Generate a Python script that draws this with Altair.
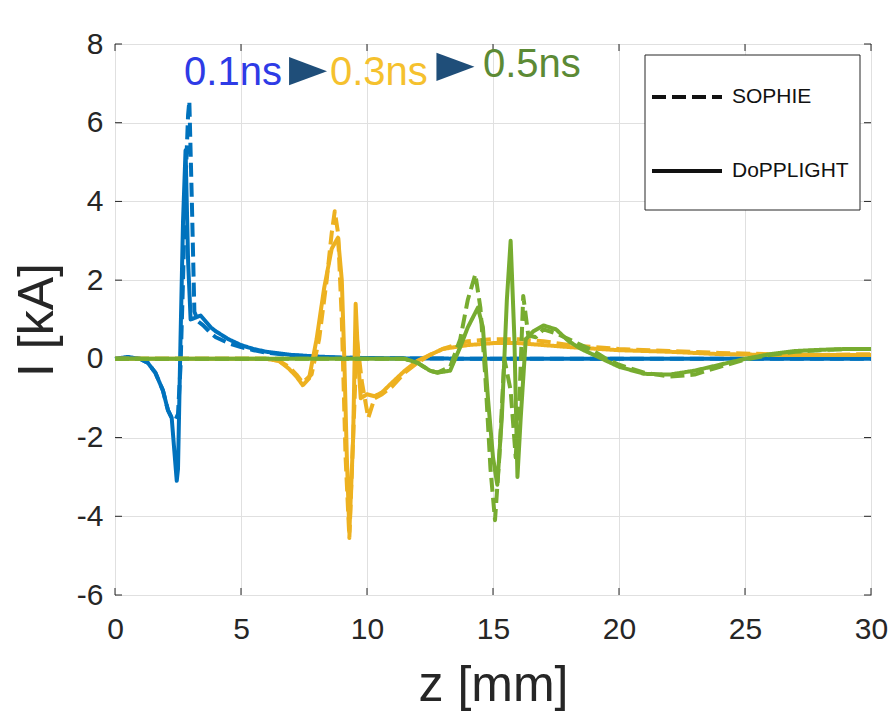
import altair as alt
import pandas as pd

# ---------------- data ----------------
x_ticks = [0, 5, 10, 15, 20, 25, 30]
y_ticks = [-6, -4, -2, 0, 2, 4, 6, 8]

# 0.1 ns (blue)
z_b_sophie = [0, 0.5, 1.0, 1.3, 1.6, 1.9, 2.1, 2.25, 2.4, 2.5, 2.6, 2.7, 2.8, 2.9, 2.95,
              3.05, 3.15, 3.3, 3.5, 3.8, 4.0, 4.5, 5.0, 5.5, 6.0, 7.0, 8.0, 9.0, 10, 12, 15, 20, 25, 30]
i_b_sophie = [0, 0.03, 0.0, -0.1, -0.35, -0.8, -1.3, -1.5, -1.55, -1.4, -0.2, 2.0, 4.5, 6.2, 6.55,
              4.0, 1.2, 0.95, 0.85, 0.65, 0.55, 0.4, 0.3, 0.22, 0.16, 0.09, 0.05, 0.03, 0.02, 0.01, 0, 0, 0, 0]
z_b_dop = [0, 0.5, 1.0, 1.3, 1.6, 1.9, 2.1, 2.25, 2.35, 2.45, 2.5, 2.6, 2.7, 2.8, 2.9,
           3.0, 3.2, 3.4, 3.6, 3.8, 4.0, 4.5, 5.0, 5.5, 6.0, 7.0, 8.0, 9.0, 10, 12, 15, 20, 25, 30]
i_b_dop = [0.0, 0.05, 0.0, -0.1, -0.35, -0.8, -1.3, -1.5, -2.3, -3.1, -2.8, 0.5, 3.5, 5.3, 2.5,
           1.0, 1.05, 1.1, 0.95, 0.8, 0.7, 0.5, 0.35, 0.25, 0.18, 0.1, 0.06, 0.03, 0.02, 0.01, 0.0, 0.0, 0.0, 0.0]

# 0.3 ns (orange)
z_o_sophie = [0, 3, 6, 6.5, 6.9, 7.2, 7.45, 7.8, 8.1, 8.4, 8.6, 8.72, 8.85, 9.0, 9.15, 9.3, 9.45,
              9.6, 9.8, 10.05, 10.3, 10.6, 11.0, 11.5, 12.0, 12.5, 13.0, 14.0, 15.0, 16.0, 17.0,
              18.0, 20.0, 22.0, 24.0, 26.0, 28.0, 30.0]
i_o_sophie = [0, 0, 0, -0.05, -0.2, -0.4, -0.6, -0.4, 0.5, 2.0, 3.2, 3.75, 3.2, 1.0, -2.5, -4.55, -2.0,
              0.5, -0.6, -1.5, -1.0, -0.9, -0.7, -0.35, -0.1, 0.1, 0.25, 0.45, 0.5, 0.5, 0.45,
              0.35, 0.25, 0.2, 0.15, 0.12, 0.1, 0.12]
z_o_dop = [0, 3, 6, 6.5, 6.9, 7.2, 7.45, 7.7, 8.0, 8.3, 8.6, 8.85, 9.0, 9.1, 9.2, 9.3, 9.45,
           9.55, 9.65, 9.75, 10.0, 10.3, 10.6, 11.0, 11.5, 12.0, 12.5, 13.0, 14.0, 15.0, 16.0,
           17.0, 18.0, 20.0, 22.0, 24.0, 26.0, 28.0, 30.0]
i_o_dop = [0, 0, 0, -0.05, -0.25, -0.45, -0.67, -0.5, 0.5, 1.8, 2.8, 3.08, 2.0, 0, -2.5, -4.4, -2.0,
           1.4, 0.0, -1.0, -0.9, -0.95, -0.85, -0.6, -0.3, -0.05, 0.1, 0.25, 0.35, 0.4, 0.4,
           0.35, 0.3, 0.22, 0.18, 0.12, 0.1, 0.1, 0.1]

# 0.5 ns (green)
z_g_sophie = [0, 5, 10, 11.5, 12.0, 12.5, 12.8, 13.3, 13.7, 14.0, 14.3, 14.5, 14.7, 14.9, 15.08,
              15.25, 15.45, 15.7, 15.9, 16.05, 16.2, 16.4, 16.7, 17.0, 17.5, 18.0, 18.5, 19.0,
              19.5, 20.0, 21.0, 22.0, 23.0, 24.0, 25.0, 26.0, 27.0, 28.0, 29.0, 30.0]
i_g_sophie = [0, 0, 0, 0, -0.1, -0.3, -0.35, -0.2, 0.5, 1.5, 2.15, 1.3, -0.5, -2.8, -4.1,
              -2.5, 0.0, -0.8, -2.5, -1.0, 1.6, 0.6, 0.55, 0.75, 0.65, 0.5, 0.35, 0.2,
              0.0, -0.15, -0.35, -0.45, -0.4, -0.2, -0.02, 0.1, 0.18, 0.22, 0.25, 0.25]
z_g_dop = [0, 5, 10, 11.5, 12.0, 12.5, 12.8, 13.3, 13.7, 14.0, 14.4, 14.6, 14.8, 15.0, 15.17,
           15.35, 15.55, 15.7, 15.85, 15.97, 16.1, 16.3, 16.6, 17.0, 17.5, 18.0, 18.5, 19.0,
           19.5, 20.0, 21.0, 22.0, 23.0, 24.0, 25.0, 26.0, 27.0, 28.0, 29.0, 30.0]
i_g_dop = [0, 0, 0, 0, -0.1, -0.3, -0.35, -0.3, 0.3, 0.8, 1.3, 0.8, -1.0, -2.5, -3.2,
           -1.5, 1.5, 3.0, 0.5, -3.0, -1.5, 0.5, 0.7, 0.85, 0.75, 0.45, 0.25, 0.1,
           -0.05, -0.2, -0.38, -0.4, -0.3, -0.15, 0.0, 0.12, 0.2, 0.23, 0.25, 0.25]

models = ["SOPHIE", "DoPPLIGHT"]
times = ["0.1ns", "0.3ns", "0.5ns"]
line_colors = ["#0072BD", "#EDB120", "#77AC30"]

# annotation texts
ann_labels = ["0.1ns", "0.3ns", "0.5ns"]
ann_colors = ["#2E3BE6", "#F5C12E", "#5C8A35"]
ann_z = [2.74, 8.53, 14.6]
ann_i = [6.96, 6.96, 7.16]
arrow_z = [7.66, 13.51]
arrow_i = [7.31, 7.42]

# ---------------- build tables ----------------
series = {
    ("0.1ns", "SOPHIE"): (z_b_sophie, i_b_sophie),
    ("0.1ns", "DoPPLIGHT"): (z_b_dop, i_b_dop),
    ("0.3ns", "SOPHIE"): (z_o_sophie, i_o_sophie),
    ("0.3ns", "DoPPLIGHT"): (z_o_dop, i_o_dop),
    ("0.5ns", "SOPHIE"): (z_g_sophie, i_g_sophie),
    ("0.5ns", "DoPPLIGHT"): (z_g_dop, i_g_dop),
}
rows = []
for (t, m), (zs, iis) in series.items():
    for k, (zv, iv) in enumerate(zip(zs, iis)):
        rows.append({"time": t, "model": m, "z": zv, "I": iv, "k": k})
df = pd.DataFrame(rows)

W, H = 756, 551
FONT = "Liberation Sans"

X = alt.X("z:Q", scale=alt.Scale(domain=[0, 30], nice=False, zero=False),
          axis=alt.Axis(values=x_ticks, title="z [mm]"))
Y = alt.Y("I:Q", scale=alt.Scale(domain=[-6, 8], nice=False, zero=False),
          axis=alt.Axis(values=y_ticks, title="I [kA]", labelExpr="datum.value"))

dash = alt.StrokeDash(
    "model:N",
    scale=alt.Scale(domain=models, range=[[14, 6], [1, 0]]),
    legend=alt.Legend(
        title=None, orient="none", legendX=527, legendY=8,
        padding=8,
        labelFont=FONT, labelFontSize=21, labelColor="#111111",
        symbolType="stroke", symbolSize=4900, symbolStrokeWidth=4,
        symbolStrokeColor="#111111", labelOffset=8, rowPadding=27,
    ),
)

# legend frame (decoration)
legend_box = alt.Chart(pd.DataFrame({"a": [0]})).mark_rect(
    fill="white", stroke="#262626", strokeWidth=1
).encode(x=alt.value(530), x2=alt.value(745), y=alt.value(11), y2=alt.value(166))

layers = []
for t, c in zip(times, line_colors):
    layers.append(
        alt.Chart(df[df["time"] == t]).mark_line(strokeWidth=4, color=c, strokeCap="butt",
                                                 strokeJoin="round")
        .encode(x=X, y=Y, strokeDash=dash, order="k:Q")
    )

# inward MATLAB-style ticks
xt = pd.DataFrame({"z": x_ticks})
yt = pd.DataFrame({"I": y_ticks})
tick_col = "#262626"
ticks = [
    alt.Chart(xt).mark_rule(color=tick_col, strokeWidth=1).encode(x=X, y=alt.value(H), y2=alt.value(H - 7)),
    alt.Chart(xt).mark_rule(color=tick_col, strokeWidth=1).encode(x=X, y=alt.value(0), y2=alt.value(7)),
    alt.Chart(yt).mark_rule(color=tick_col, strokeWidth=1).encode(y=Y, x=alt.value(0), x2=alt.value(7)),
    alt.Chart(yt).mark_rule(color=tick_col, strokeWidth=1).encode(y=Y, x=alt.value(W), x2=alt.value(W - 7)),
]

ann_df = pd.DataFrame({"label": ann_labels, "z": ann_z, "I": ann_i, "c": ann_colors})
ann = alt.Chart(ann_df).mark_text(align="left", baseline="alphabetic", font=FONT, fontSize=40).encode(
    x=X, y=Y, text="label:N", color=alt.Color("c:N", scale=None)
)
arr_df = pd.DataFrame({"z": arrow_z, "I": arrow_i})
arrows = alt.Chart(arr_df).mark_point(
    shape="M-1,-0.74L1,0L-1,0.74Z", filled=True, size=1444, color="#1F4E79", opacity=1, strokeWidth=0
).encode(x=X, y=Y)

chart = alt.layer(*ticks, *layers, legend_box, ann, arrows).properties(
    width=W, height=H,
    autosize=alt.AutoSizeParams(type="none"),
    padding={"left": 107, "top": 36, "right": 17, "bottom": 117},
).configure_view(
    stroke="#262626", strokeWidth=1
).configure_axis(
    grid=True, gridColor="#e0e0e0", gridWidth=1, domain=False, ticks=False,
    labelFlush=False, labelOverlap=False,
    labelFont=FONT, labelFontSize=30, labelColor="#262626",
    titleFont=FONT, titleFontSize=50, titleFontWeight="normal", titleColor="#262626",
).configure_axisX(
    labelPadding=19, titlePadding=16
).configure_axisY(
    labelPadding=12, titlePadding=14
)

chart.save("out.html", embed_options={"renderer": "svg", "actions": False})
